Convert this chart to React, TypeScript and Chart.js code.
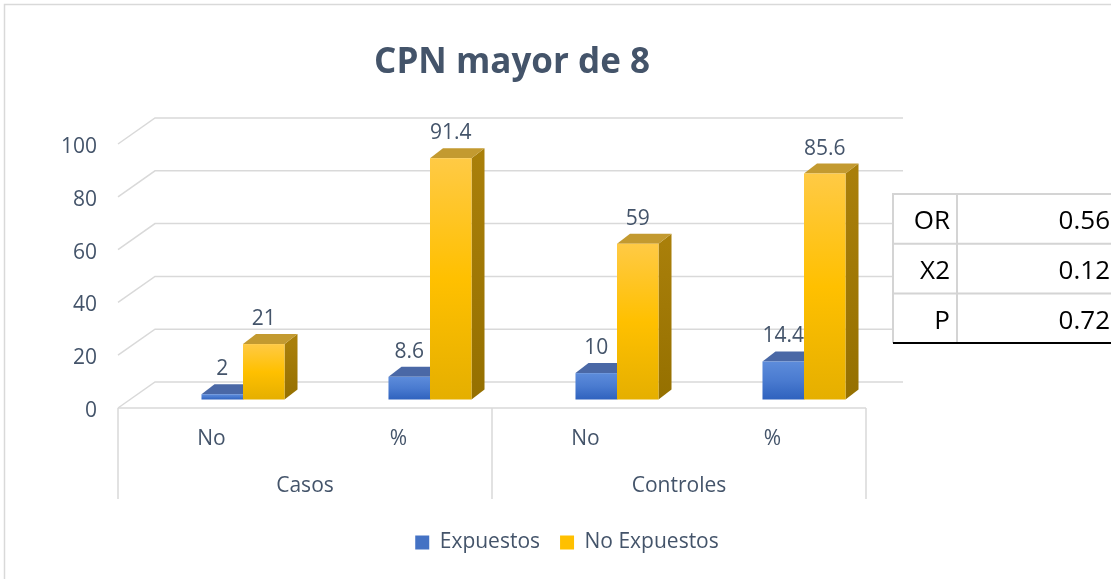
import React, { useEffect, useRef } from "react";
import { Chart, registerables } from "chart.js";
Chart.register(...registerables);

// ---- data ----
const categories = ["No", "%", "No", "%"];
const groupLabels = ["Casos", "Controles"];
const seriesNames = ["Expuestos", "No Expuestos"];
const expuestos = [2, 8.6, 10, 14.4];
const noExpuestos = [21, 91.4, 59, 85.6];
const yTickValues = [0, 20, 40, 60, 80, 100];
const statNames = ["OR", "X2", "P"];
const statValues = ["0.56", "0.12", "0.72"];
const chartTitle = "CPN mayor de 8";

// ---- style ----
const FONT = "'Open Sans', 'Noto Sans', sans-serif";
const TEXT = "#44546A";
const GRID = "#D9D9D9";
const DEPTH_X = 37;
const DEPTH_Y = -26;
const BAR_DX = 31.5;
const BAR_DY = -8.5;
const BAR_DEPTH_X = 13;
const BAR_DEPTH_Y = -10;

const palettes = [
  { front: ["#5D8CDB", "#4A7BD0", "#2F62BE"], top: "#4A68A6", side: ["#2A4F93", "#22437F"], legend: "#4472C4" },
  { front: ["#FFCA45", "#FFC000", "#E5AF00"], top: "#C39A30", side: ["#A97F0A", "#957000"], legend: "#FFC000" },
];

const threeD = {
  id: "threeD",
  beforeDraw(chart: any) {
    const ctx = chart.ctx;
    ctx.save();
    ctx.fillStyle = "#ffffff";
    ctx.fillRect(0, 0, chart.width, chart.height);
    ctx.strokeStyle = GRID;
    ctx.lineWidth = 1.5;
    ctx.beginPath();
    ctx.moveTo(4.5, chart.height);
    ctx.lineTo(4.5, 4.5);
    ctx.lineTo(chart.width, 4.5);
    ctx.stroke();
    ctx.restore();
  },
  beforeDatasetsDraw(chart: any) {
    const { ctx, chartArea: ca, scales } = chart;
    const ys = scales.y;
    const xs = scales.x;
    ctx.save();
    ctx.strokeStyle = GRID;
    ctx.lineWidth = 1.5;
    yTickValues.forEach((v) => {
      const py = ys.getPixelForValue(v);
      ctx.beginPath();
      ctx.moveTo(ca.left, py);
      ctx.lineTo(ca.left + DEPTH_X, py + DEPTH_Y);
      ctx.lineTo(ca.right + DEPTH_X, py + DEPTH_Y);
      ctx.stroke();
    });
    const base = ys.getPixelForValue(0);
    ctx.beginPath();
    ctx.moveTo(ca.left, base);
    ctx.lineTo(ca.right, base);
    ctx.stroke();
    const half = categories.length / 2;
    const sepXs = [ca.left, (xs.getPixelForValue(half - 1) + xs.getPixelForValue(half)) / 2, ca.right];
    sepXs.forEach((sx) => {
      ctx.beginPath();
      ctx.moveTo(sx, base);
      ctx.lineTo(sx, base + 91);
      ctx.stroke();
    });

    for (let i = 0; i < categories.length; i++) {
      chart.data.datasets.forEach((_ds: any, di: number) => {
        const el = chart.getDatasetMeta(di).data[i];
        const p = palettes[di];
        const w = el.width;
        const x0 = el.x - w / 2 + BAR_DX;
        const x1 = x0 + w;
        const top = el.y + BAR_DY;
        const bot = el.base + BAR_DY;
        // side
        const sg = ctx.createLinearGradient(0, top, 0, bot);
        sg.addColorStop(0, p.side[0]);
        sg.addColorStop(1, p.side[1]);
        ctx.fillStyle = sg;
        ctx.beginPath();
        ctx.moveTo(x1, top);
        ctx.lineTo(x1 + BAR_DEPTH_X, top + BAR_DEPTH_Y);
        ctx.lineTo(x1 + BAR_DEPTH_X, bot + BAR_DEPTH_Y);
        ctx.lineTo(x1, bot);
        ctx.closePath();
        ctx.fill();
        // top
        ctx.fillStyle = p.top;
        ctx.beginPath();
        ctx.moveTo(x0, top);
        ctx.lineTo(x1, top);
        ctx.lineTo(x1 + BAR_DEPTH_X, top + BAR_DEPTH_Y);
        ctx.lineTo(x0 + BAR_DEPTH_X, top + BAR_DEPTH_Y);
        ctx.closePath();
        ctx.fill();
        // front
        const fg = ctx.createLinearGradient(0, top, 0, bot);
        fg.addColorStop(0, p.front[0]);
        fg.addColorStop(0.5, p.front[1]);
        fg.addColorStop(1, p.front[2]);
        ctx.fillStyle = fg;
        ctx.fillRect(x0, top, w, bot - top);
      });
    }
    ctx.restore();
    return false;
  },
  afterDraw(chart: any) {
    const { ctx, chartArea: ca, scales } = chart;
    const ys = scales.y;
    const xs = scales.x;
    ctx.save();
    // data labels
    ctx.fillStyle = TEXT;
    ctx.font = `21px ${FONT}`;
    ctx.textAlign = "center";
    ctx.textBaseline = "middle";
    chart.data.datasets.forEach((ds: any, di: number) => {
      chart.getDatasetMeta(di).data.forEach((el: any, i: number) => {
        ctx.fillText(String(ds.data[i]), el.x + BAR_DX, el.y + BAR_DY - 25);
      });
    });
    // group labels
    const base = ys.getPixelForValue(0);
    const half = categories.length / 2;
    const mid = (xs.getPixelForValue(half - 1) + xs.getPixelForValue(half)) / 2;
    const bounds = [ca.left, mid, ca.right];
    groupLabels.forEach((g, gi) => {
      ctx.fillText(g, (bounds[gi] + bounds[gi + 1]) / 2, base + 78);
    });
    // title
    ctx.font = `bold 35px ${FONT}`;
    ctx.fillText(chartTitle, 512, 63);

    // stats table
    const tl = 893, tc = 957, tr = 1111, tt = 194, rh = 49.7;
    ctx.fillStyle = "#ffffff";
    ctx.fillRect(tl, tt, tr - tl, rh * statNames.length);
    ctx.strokeStyle = "#D4D4D4";
    ctx.lineWidth = 2;
    ctx.beginPath();
    ctx.moveTo(tl, tt + rh * statNames.length);
    ctx.lineTo(tl, tt);
    ctx.lineTo(tr, tt);
    ctx.moveTo(tc, tt);
    ctx.lineTo(tc, tt + rh * statNames.length);
    for (let r = 1; r < statNames.length; r++) {
      ctx.moveTo(tl, tt + rh * r);
      ctx.lineTo(tr, tt + rh * r);
    }
    ctx.stroke();
    ctx.strokeStyle = "#000000";
    ctx.lineWidth = 2;
    ctx.beginPath();
    ctx.moveTo(tl, tt + rh * statNames.length);
    ctx.lineTo(tr, tt + rh * statNames.length);
    ctx.stroke();
    ctx.fillStyle = "#000000";
    ctx.font = `26px ${FONT}`;
    ctx.textAlign = "right";
    statNames.forEach((n, r) => {
      const cy = tt + rh * r + rh / 2 + 3;
      ctx.fillText(n, tc - 7, cy);
      ctx.fillText(statValues[r], tr - 1, cy);
    });
    ctx.restore();
  },
};

export default function App() {
  const ref = useRef<HTMLCanvasElement | null>(null);
  useEffect(() => {
    document.body.style.margin = "0";
    if (!ref.current) return;
    Chart.defaults.font.family = FONT;
    Chart.defaults.color = TEXT;
    const chart = new Chart(ref.current, {
      type: "bar",
      data: {
        labels: categories,
        datasets: [
          { label: seriesNames[0], data: expuestos, backgroundColor: palettes[0].legend, borderWidth: 0 },
          { label: seriesNames[1], data: noExpuestos, backgroundColor: palettes[1].legend, borderWidth: 0 },
        ],
      },
      options: {
        responsive: false,
        animation: false,
        devicePixelRatio: 1,
        datasets: { bar: { categoryPercentage: 0.444, barPercentage: 1 } },
        layout: { padding: { left: 23, right: 0, top: 144, bottom: 16 } },
        plugins: {
          title: { display: false },
          tooltip: { enabled: false },
          legend: {
            position: "bottom",
            labels: {
              font: { size: 21, family: FONT },
              color: TEXT,
              boxWidth: 14,
              boxHeight: 14,
              padding: 20,
            },
          },
        },
        scales: {
          x: {
            grid: { display: false, drawTicks: false },
            border: { display: false },
            ticks: { font: { size: 21 }, color: TEXT, padding: 18 },
            afterFit: (s: any) => { s.height = 104; },
          },
          y: {
            min: 0,
            max: 100,
            afterBuildTicks: (s: any) => { s.ticks = yTickValues.map((v) => ({ value: v })); },
            grid: { display: false, drawTicks: false },
            border: { display: false },
            ticks: { font: { size: 21 }, color: TEXT, padding: 21, labelOffset: 3 },
            afterFit: (s: any) => { s.width = 95; },
          },
          y2: {
            type: "linear",
            position: "right",
            display: true,
            grid: { display: false, drawTicks: false },
            border: { display: false },
            ticks: { display: false },
            afterFit: (s: any) => { s.width = 245; },
          },
        },
      },
      plugins: [threeD],
    } as any);
    return () => chart.destroy();
  }, []);
  return (
    <div style={{ width: 1111, height: 579 }}>
      <canvas ref={ref} width={1111} height={579} style={{ display: "block" }} />
    </div>
  );
}
